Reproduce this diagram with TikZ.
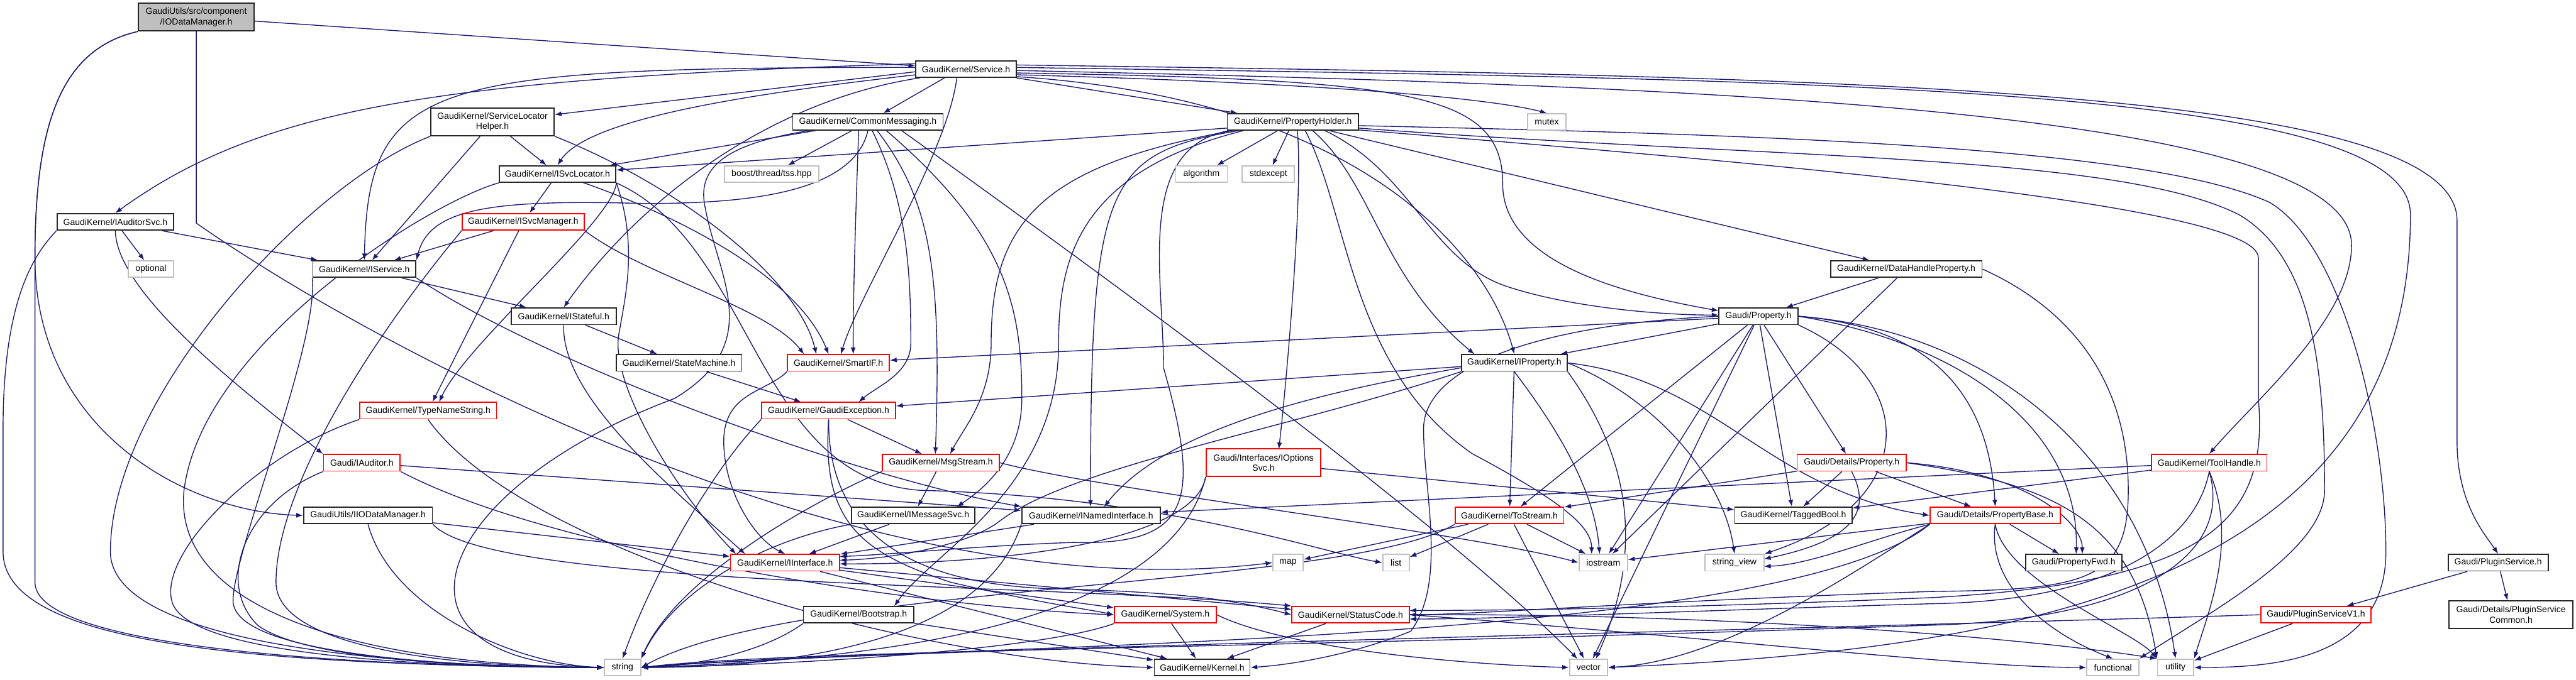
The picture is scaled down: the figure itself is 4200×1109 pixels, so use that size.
\documentclass[tikz,border=0pt]{standalone}
\usepackage{fontspec}
\newfontfamily\dxf{Liberation Sans}
\usetikzlibrary{arrows.meta}
\definecolor{mblue}{HTML}{191970}
\definecolor{sysgray}{HTML}{BFBFBF}
\definecolor{rootfill}{HTML}{BFBFBF}
\pgfdeclarelayer{bg}
\pgfsetlayers{bg,main}
\tikzset{
 nbase/.style={draw=black!85, line width=0.9pt, fill=white, inner sep=0pt, minimum height=13.5pt, align=center, font=\dxf\fontsize{7.2pt}{8.5pt}\selectfont},
 nblk/.style={nbase},
 nred/.style={nbase, draw=red},
 nsys/.style={nbase, draw=sysgray},
 nroot/.style={nbase, fill=rootfill},
 tall/.style={minimum height=22.5pt},
 edg/.style={draw=mblue, line width=0.7pt, -{Latex[length=5.5pt,width=4pt]}},
}
\newcommand\dxnode[6]{\node[#1, minimum width={#2*0.5pt}] (#3) at (#4,#5) {#6};}
\begin{document}
\begin{tikzpicture}[x=0.5pt,y=-0.5pt]
\useasboundingbox (0,0) rectangle (4200,1109);
% ---------------- nodes ----------------
\dxnode{nroot,tall}{189}{root}{320}{28}{GaudiUtils/src/component\\/IODataManager.h}
\dxnode{nblk}{164}{svc}{1575}{113}{GaudiKernel/Service.h}
\dxnode{nblk,tall}{201}{slh}{803}{199}{GaudiKernel/ServiceLocator\\Helper.h}
\dxnode{nblk}{245}{cm}{1415}{199}{GaudiKernel/CommonMessaging.h}
\dxnode{nblk}{214}{ph}{2108}{199}{GaudiKernel/PropertyHolder.h}
\dxnode{nsys}{63}{mutex}{2522}{199}{mutex}
\dxnode{nblk}{190}{isl}{909}{284}{GaudiKernel/ISvcLocator.h}
\dxnode{nsys}{154}{tss}{1258}{284}{boost/thread/tss.hpp}
\dxnode{nsys}{84}{algo}{1959}{284}{algorithm}
\dxnode{nsys}{85}{stdexc}{2068}{284}{stdexcept}
\dxnode{nblk}{190}{ias}{188}{362}{GaudiKernel/IAuditorSvc.h}
\dxnode{nred}{199}{ism}{853}{362}{GaudiKernel/ISvcManager.h}
\dxnode{nsys}{74}{opt}{246}{439}{optional}
\dxnode{nblk}{168}{isv}{594}{439}{GaudiKernel/IService.h}
\dxnode{nblk}{247}{dhp}{3108}{439}{GaudiKernel/DataHandleProperty.h}
\dxnode{nblk}{171}{ist}{919}{516}{GaudiKernel/IStateful.h}
\dxnode{nblk}{129}{prop}{2867}{516}{Gaudi/Property.h}
\dxnode{nblk}{205}{sm}{1107}{592}{GaudiKernel/StateMachine.h}
\dxnode{nred}{166}{sif}{1367}{592}{GaudiKernel/SmartIF.h}
\dxnode{nblk}{172}{ipr}{2469}{592}{GaudiKernel/IProperty.h}
\dxnode{nred}{223}{tns}{698}{670}{GaudiKernel/TypeNameString.h}
\dxnode{nred}{218}{gex}{1351}{670}{GaudiKernel/GaudiException.h}
\dxnode{nred}{125}{iaud}{590}{755}{Gaudi/IAuditor.h}
\dxnode{nred}{191}{msg}{1534}{755}{GaudiKernel/MsgStream.h}
\dxnode{nred,tall}{187}{ios}{2060}{755}{Gaudi/Interfaces/IOptions\\Svc.h}
\dxnode{nred}{178}{dprop}{3019}{755}{Gaudi/Details/Property.h}
\dxnode{nred}{188}{th}{3602}{755}{GaudiKernel/ToolHandle.h}
\dxnode{nblk}{210}{iiod}{600}{841}{GaudiUtils/IIODataManager.h}
\dxnode{nblk}{201}{imsg}{1489}{841}{GaudiKernel/IMessageSvc.h}
\dxnode{nblk}{226}{ini}{1779}{841}{GaudiKernel/INamedInterface.h}
\dxnode{nred}{177}{tos}{2461}{841}{GaudiKernel/ToStream.h}
\dxnode{nblk}{191}{tb}{2924}{841}{GaudiKernel/TaggedBool.h}
\dxnode{nred}{212}{pb}{3253}{841}{Gaudi/Details/PropertyBase.h}
\dxnode{nred}{178}{iif}{1280}{918}{GaudiKernel/IInterface.h}
\dxnode{nsys}{49}{map}{2100}{918}{map}
\dxnode{nsys}{43}{list}{2276}{918}{list}
\dxnode{nsys}{79}{iostream}{2614}{918}{iostream}
\dxnode{nsys}{96}{sv}{2828}{918}{string\_view}
\dxnode{nblk}{157}{pfwd}{3381}{918}{Gaudi/PropertyFwd.h}
\dxnode{nblk}{163}{ps}{4073}{918}{Gaudi/PluginService.h}
\dxnode{nblk}{180}{boot}{1400}{1003}{GaudiKernel/Bootstrap.h}
\dxnode{nred}{166}{sys}{1900}{1003}{GaudiKernel/System.h}
\dxnode{nred}{191}{sc}{2202}{1003}{GaudiKernel/StatusCode.h}
\dxnode{nred}{180}{psv1}{3776}{1003}{Gaudi/PluginServiceV1.h}
\dxnode{nblk,tall}{202}{psc}{4094}{1003}{Gaudi/Details/PluginService\\Common.h}
\dxnode{nsys}{59}{string}{1015}{1089}{string}
\dxnode{nblk}{156}{kernel}{1960}{1089}{GaudiKernel/Kernel.h}
\dxnode{nsys}{62}{vector}{2590}{1089}{vector}
\dxnode{nsys}{85}{functional}{3445}{1089}{functional}
\dxnode{nsys}{59}{utility}{3547}{1089}{utility}
% ---------------- edges ----------------
\begin{pgfonlayer}{bg}
\fill[white] (0,0) rectangle (4200,1109);
% root
\draw[edg] (root) -- (svc);
\draw[edg] (root.south west) .. controls (100,80) and (57,200) .. (57,420) .. controls (57,700) and (300,835) .. (iiod.west);
\draw[edg] (root.south west) .. controls (100,80) and (57,200) .. (57,420) -- (57,950) .. controls (57,1070) and (700,1089) .. (string.west);
\draw[edg] (root.south) -- (320,364) .. controls (600,560) and (1400,1000) .. (map.west);
% Service.h
\draw[edg] (1540,127) -- (cm);
\draw[edg] (1657,127) -- (ph);
\draw[edg] (1657,122) .. controls (2150,135) and (2430,160) .. (mutex.north);
\draw[edg] (1493,117) -- (slh);
\draw[edg] (1493,122) .. controls (1250,150) and (960,190) .. (isl.north);
\draw[edg] (1493,104) .. controls (700,128) and (420,180) .. (ias.north);
\draw[edg] (1493,110) .. controls (700,110) and (600,130) .. (isv.north);
\draw[edg] (1500,127) .. controls (1250,165) and (1040,330) .. (ist.north);
\draw[edg] (1560,127) .. controls (1545,250) and (1400,480) .. (1371,578);
\draw[edg] (1657,125) .. controls (2200,160) and (2420,400) .. (ipr.north);
\draw[edg] (1657,119) .. controls (2300,130) and (2450,150) .. (2450,300) .. controls (2450,430) and (2650,480) .. (2802,507);
\draw[edg] (1657,115) .. controls (2800,140) and (3834,180) .. (3834,400) .. controls (3834,520) and (3680,650) .. (th.north);
\draw[edg] (1657,106) .. controls (3000,125) and (4006,140) .. (4006,360) -- (4006,720) .. controls (4006,820) and (4050,870) .. (ps.north);
\draw[edg] (1657,110) .. controls (3000,130) and (3930,140) .. (3930,350) .. controls (3930,950) and (3300,1060) .. (vector.east);
% ServiceLocatorHelper
\draw[edg] (slh) -- (isl);
\draw[edg] (slh) -- (isv);
\draw[edg] (slh.south east) .. controls (1100,300) and (1300,450) .. (1331,578);
\draw[edg] (slh.south west) .. controls (500,300) and (180,650) .. (180,900) .. controls (180,1060) and (700,1089) .. (string.west);
% CommonMessaging
\draw[edg] (cm) -- (tss);
\draw[edg] (1330,213) -- (isl);
\draw[edg] (cm.south) .. controls (1390,320) and (1200,332) .. (1050,332) .. controls (800,325) and (700,340) .. (isv.north east);
\draw[edg] (1400,213) .. controls (1395,350) and (1391,480) .. (1391,578);
\draw[edg] (1422,213) .. controls (1480,330) and (1485,450) .. (1485,560) .. controls (1485,610) and (1430,630) .. (1400,656);
\draw[edg] (1430,213) .. controls (1520,330) and (1535,450) .. (1525,741);
\draw[edg] (1445,213) .. controls (1640,380) and (1666,500) .. (1666,650) .. controls (1666,750) and (1600,800) .. (1560,827);
\draw[edg] (1470,213) .. controls (1800,450) and (2350,850) .. (2572,1075);
\draw[edg] (1320,213) .. controls (1180,235) and (1135,275) .. (1150,340) .. controls (1170,450) and (1250,560) .. (1100,650) .. controls (700,800) and (600,1080) .. (string.west);
% PropertyHolder
\draw[edg] (ph) -- (algo);
\draw[edg] (ph) -- (stdexc);
\draw[edg] (2001,209) -- (isl);
\draw[edg] (ph) -- (dhp);
\draw[edg] (2160,213) .. controls (2300,280) and (2330,420) .. (2450,465) .. controls (2550,500) and (2700,514) .. (2802,514);
\draw[edg] (2140,213) .. controls (2240,300) and (2250,450) .. (2404,578);
\draw[edg] (2020,213) .. controls (1800,250) and (1778,300) .. (1778,827);
\draw[edg] (2010,213) .. controls (1700,270) and (1616,360) .. (1616,560) .. controls (1616,650) and (1570,700) .. (1549,741);
\draw[edg] (2115,213) .. controls (2125,300) and (2100,600) .. (2085,733);
\draw[edg] (2128,213) .. controls (2200,350) and (2200,600) .. (2400,740) .. controls (2550,820) and (2595,860) .. (2595,904);
\draw[edg] (2005,213) .. controls (1850,240) and (1897,450) .. (1897,600) .. controls (1960,820) and (1940,890) .. (1750,885) .. controls (1600,890) and (1450,905) .. (1369,908);
\draw[edg] (2028,213) .. controls (1760,280) and (1726,420) .. (1726,560) .. controls (1726,800) and (1520,900) .. (1458,989);
\draw[edg] (2215,205) .. controls (2900,220) and (3500,240) .. (3700,330) .. controls (3820,400) and (3890,700) .. (3890,900) .. controls (3890,1080) and (3700,1089) .. (utility.east);
\draw[edg] (2215,209) .. controls (2900,260) and (3450,250) .. (3650,350) .. controls (3770,420) and (3790,600) .. (3790,800) .. controls (3790,900) and (3600,1000) .. (functional.north east);
\draw[edg] (2215,212) .. controls (2800,260) and (3680,330) .. (3682,420) -- (3682,650) .. controls (3700,850) and (3600,950) .. (3150,975) .. controls (2800,990) and (2500,996) .. (2298,996);
% DataHandleProperty
\draw[edg] (dhp) -- (prop);
\draw[edg] (dhp) -- (iostream);
\draw[edg] (dhp.east) .. controls (3300,470) and (3470,560) .. (3470,800) .. controls (3470,950) and (3400,962) .. (3150,965) .. controls (2700,980) and (2400,1003) .. (2298,1003);
% Gaudi/Property.h
\draw[edg] (prop) -- (ipr);
\draw[edg] (prop) -- (sif);
\draw[edg] (prop) -- (dprop);
\draw[edg] (prop) -- (tb);
\draw[edg] (prop) -- (tos);
\draw[edg] (prop) -- (iostream);
\draw[edg] (prop) -- (vector);
\draw[edg] (prop.south east) .. controls (3130,620) and (3130,820) .. (sv.north east);
\draw[edg] (prop.east) .. controls (3100,530) and (3240,600) .. (pb.north);
\draw[edg] (prop.east) .. controls (3200,560) and (3390,700) .. (3385,904);
\draw[edg] (prop.east) .. controls (3250,540) and (3500,750) .. (utility.north);
\draw[edg] (prop.west) .. controls (2500,530) and (2321,600) .. (2321,700) .. controls (2321,800) and (2360,950) .. (2300,1030) .. controls (2200,1070) and (2100,1085) .. (kernel.east);
% IProperty
\draw[edg] (ipr) -- (gex);
\draw[edg] (2383,600) .. controls (2150,640) and (1900,700) .. (1800,827);
\draw[edg] (ipr.south west) .. controls (2100,700) and (1750,760) .. (1630,850) .. controls (1580,890) and (1450,912) .. (1369,914);
\draw[edg] (ipr) -- (tos);
\draw[edg] (ipr.south) .. controls (2540,700) and (2600,800) .. (2608,904);
\draw[edg] (ipr.south east) .. controls (2660,750) and (2680,900) .. (2602,1075);
\draw[edg] (ipr.east) .. controls (2700,650) and (2810,780) .. (sv.north);
\draw[edg] (ipr.east) .. controls (2800,620) and (2880,800) .. (pb.west);
% ToStream
\draw[edg] (tos) -- (map);
\draw[edg] (tos) -- (list);
\draw[edg] (tos) -- (iostream);
\draw[edg] (tos) -- (vector);
\draw[edg] (tos.south west) .. controls (2200,960) and (1300,950) .. (string.east);
% Details/Property
\draw[edg] (dprop) -- (tb);
\draw[edg] (dprop) -- (tos);
\draw[edg] (dprop.south) .. controls (3050,830) and (3030,880) .. (2876,912);
\draw[edg] (dprop) -- (pb);
\draw[edg] (dprop.east) .. controls (3300,770) and (3395,850) .. (3395,904);
\draw[edg] (dprop.east) .. controls (3350,790) and (3480,850) .. (utility.north west);
% PropertyBase
\draw[edg] (pb) -- (pfwd);
\draw[edg] (pb.south) .. controls (3240,950) and (3330,1030) .. (functional.north);
\draw[edg] (pb.south) .. controls (3270,950) and (3480,1030) .. (utility.north west);
\draw[edg] (pb.south west) .. controls (3050,880) and (2950,922) .. (2876,924);
\draw[edg] (pb) -- (iostream);
\draw[edg] (pb.south west) .. controls (2900,1060) and (1500,1050) .. (string.east);
\draw[edg] (pb.south west) .. controls (3000,950) and (2800,1080) .. (vector.east);
% ToolHandle
\draw[edg] (th) -- (ini);
\draw[edg] (th) -- (tb);
\draw[edg] (th.south) .. controls (3580,880) and (3450,980) .. (3150,985) .. controls (2800,995) and (2450,1010) .. (2298,1010);
\draw[edg] (th.south) .. controls (3650,880) and (3600,1000) .. (utility.north east);
\draw[edg] (th.south) .. controls (3640,900) and (3500,1010) .. (3150,1020) .. controls (2000,1060) and (1300,1060) .. (string.east);
% IOptionsSvc
\draw[edg] (ios) -- (tb);
\draw[edg] (ios.south west) .. controls (1950,870) and (1700,920) .. (1369,920);
\draw[edg] (ios.south west) .. controls (1900,1050) and (1300,1080) .. (string.east);
% IInterface
\draw[edg] (iif) -- (sys);
\draw[edg] (iif) -- (kernel);
\draw[edg] (iif) -- (sc);
% System, StatusCode, Bootstrap
\draw[edg] (sys) -- (kernel);
\draw[edg] (sys.south west) .. controls (1700,1060) and (1300,1085) .. (string.east);
\draw[edg] (sys.east) .. controls (2100,1060) and (2400,1085) .. (vector.west);
\draw[edg] (sc) -- (kernel);
\draw[edg] (sc.east) .. controls (2800,1040) and (3200,1089) .. (functional.west);
\draw[edg] (sc.east) .. controls (2800,1000) and (3300,1040) .. (utility.north west);
\draw[edg] (boot) -- (kernel);
\draw[edg] (boot.south west) .. controls (1250,1060) and (1150,1085) .. (string.east);
% plugin service
\draw[edg] (psv1) -- (utility);
\draw[edg] (psv1.west) .. controls (3000,1025) and (1400,1060) .. (string.east);
\draw[edg] (ps) -- (psv1);
\draw[edg] (ps) -- (psc);
% ISvcLocator
\draw[edg] (isl) -- (ism);
\draw[edg] (isl.south east) .. controls (1000,360) and (760,560) .. (716,656);
\draw[edg] (951,298) .. controls (1100,350) and (1300,450) .. (1351,578);
\draw[edg] (isl.south east) .. controls (1040,400) and (1020,480) .. (1010,540) .. controls (990,620) and (1100,800) .. (1200,904);
\draw[edg] (isl.south west) .. controls (700,330) and (330,560) .. (300,800) .. controls (280,1000) and (600,1085) .. (string.west);
\draw[edg] (isl.south east) .. controls (1230,400) and (1230,780) .. (1500,800) .. controls (1900,810) and (2150,900) .. (list.west);
% ISvcManager
\draw[edg] (ism) -- (isv);
\draw[edg] (ism) -- (tns);
\draw[edg] (ism.south east) .. controls (1050,450) and (1250,500) .. (1311,578);
\draw[edg] (ism.south west) .. controls (600,560) and (450,800) .. (450,950) .. controls (450,1060) and (750,1089) .. (string.west);
% IAuditorSvc
\draw[edg] (ias) -- (opt);
\draw[edg] (ias) -- (isv);
\draw[edg] (ias.south west) .. controls (50,420) and (5,500) .. (5,700) -- (5,900) .. controls (5,1050) and (400,1085) .. (string.west);
\draw[edg] (ias.south) .. controls (190,480) and (400,640) .. (iaud.north west);
% IService
\draw[edg] (isv) -- (ist);
\draw[edg] (isv.south east) .. controls (900,600) and (1400,780) .. (ini.north west);
\draw[edg] (isv.south west) .. controls (520,560) and (380,900) .. (380,980) .. controls (380,1070) and (750,1089) .. (string.west);
% IStateful, StateMachine, SmartIF
\draw[edg] (ist) -- (sm);
\draw[edg] (ist.south) .. controls (915,650) and (1100,800) .. (1215,904);
\draw[edg] (sm) -- (gex);
\draw[edg] (sif.south west) .. controls (1250,640) and (1180,640) .. (1180,720) .. controls (1180,800) and (1230,880) .. (iif.north);
% GaudiException
\draw[edg] (gex) -- (msg);
\draw[edg] (gex.south west) .. controls (1150,780) and (1060,950) .. (string.north);
\draw[edg] (gex.south) .. controls (1340,850) and (1400,900) .. (1550,950) .. controls (1700,985) and (1780,995) .. (sys.west);
\draw[edg] (gex.south) .. controls (1350,880) and (1500,950) .. (1700,960) .. controls (1900,965) and (2000,975) .. (sc.west);
% MsgStream, IMessageSvc, INamedInterface
\draw[edg] (msg) -- (imsg);
\draw[edg] (msg.south west) .. controls (1300,830) and (1100,950) .. (string.north east);
\draw[edg] (msg.east) .. controls (1800,800) and (2400,870) .. (iostream.west);
\draw[edg] (imsg) -- (iif);
\draw[edg] (imsg.south west) .. controls (1250,880) and (1100,960) .. (string.north east);
\draw[edg] (ini) -- (iif);
\draw[edg] (ini.south west) .. controls (1600,1060) and (1250,1089) .. (string.east);
% IIODataManager
\draw[edg] (iiod) -- (iif);
\draw[edg] (iiod.south east) .. controls (800,960) and (1700,950) .. (sc.north west);
\draw[edg] (iiod.south) .. controls (640,1000) and (850,1085) .. (string.west);
% TypeNameString, IAuditor
\draw[edg] (tns.south west) .. controls (420,740) and (260,900) .. (280,980) .. controls (300,1070) and (700,1089) .. (string.west);
\draw[edg] (tns.south) .. controls (850,900) and (1500,1080) .. (kernel.west);
\draw[edg] (iaud) -- (ini);
\draw[edg] (iaud.south west) .. controls (400,820) and (350,950) .. (420,1020) .. controls (500,1080) and (800,1089) .. (string.west);
\draw[edg] (iaud.south east) .. controls (900,900) and (1500,990) .. (sys.west);
\end{pgfonlayer}
\end{tikzpicture}
\end{document}
